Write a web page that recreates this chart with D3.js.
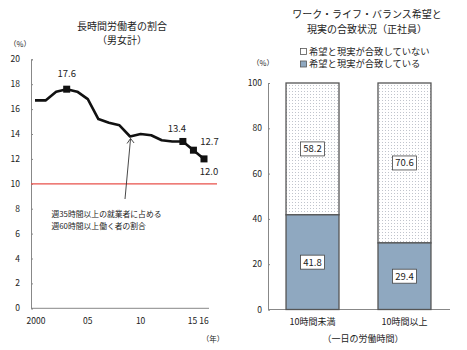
<!DOCTYPE html>
<html><head><meta charset="utf-8">
<script src="https://cdn.jsdelivr.net/npm/d3@7"></script>
<style>
body{margin:0;background:#fff;}
text{font-family:"Noto Sans CJK JP","Noto Sans",sans-serif;fill:#222;}
</style></head>
<body>
<svg id="c" width="467" height="350"></svg>
<script>
// ---- Data: left chart ----
const years = [2000,2001,2002,2003,2004,2005,2006,2007,2008,2009,2010,2011,2012,2013,2014,2015,2016];
const ratio = [16.7,16.7,17.4,17.6,17.4,16.8,15.2,14.9,14.7,13.8,14.0,13.9,13.5,13.4,13.4,12.7,12.0];
const markedYears = [2003,2014,2015,2016];
const xTickYears = [2000,2005,2010,2015,2016];
const xTickLabels = ["2000","05","10","15","16"];
const yTicksLeft = [0,2,4,6,8,10,12,14,16,18,20];
const refLine = 10;

// ---- Data: right chart ----
const categories = ["10時間未満","10時間以上"];
const matched = [41.8,29.4];
const notMatched = [58.2,70.6];
const yTicksRight = [0,20,40,60,80,100];
const legendLabels = ["希望と現実が合致していない","希望と現実が合致している"];

const svg = d3.select("#c");
const defs = svg.append("defs");
const pat = defs.append("pattern").attr("id","dots").attr("patternUnits","userSpaceOnUse")
  .attr("width",3).attr("height",3);
pat.append("rect").attr("width",3).attr("height",3).attr("fill","#fff");
pat.append("rect").attr("x",1).attr("y",1).attr("width",1).attr("height",1).attr("fill","#c0c4cc");

// ================= LEFT =================
const xL = d3.scaleLinear().domain([2000,2016]).range([35,204]);
const yL = d3.scaleLinear().domain([0,20]).range([308.3,59.3]);

const gL = svg.append("g");
gL.append("text").attr("x",122).attr("y",29.5).attr("text-anchor","middle")
  .attr("font-size",10).text("長時間労働者の割合");
gL.append("text").attr("x",122).attr("y",43.5).attr("text-anchor","middle")
  .attr("font-size",10).text("（男女計）");
gL.append("text").attr("x",20).attr("y",47).attr("text-anchor","middle")
  .attr("font-size",7.5).text("（%）");

// y axis
const axL = gL.append("g").attr("transform","translate(31,0)")
  .call(d3.axisRight(yL).tickValues(yTicksLeft).tickSize(2).tickFormat(""));
axL.select(".domain").attr("stroke","#888");
axL.selectAll(".tick line").attr("stroke","#888");
gL.selectAll(".ylab").data(yTicksLeft).join("text").attr("class","ylab")
  .attr("x",20).attr("y",d=>yL(d)+3).attr("text-anchor","end").attr("font-size",8.5).text(d=>d);

// x axis baseline
gL.append("line").attr("x1",31).attr("x2",209).attr("y1",yL(0)).attr("y2",yL(0)).attr("stroke","#888");
gL.selectAll(".xlab").data(xTickYears).join("text").attr("class","xlab")
  .attr("x",(d,i)=>xL(d)+(i===0?1:(d===2015?-1:0)))
  .attr("y",324).attr("text-anchor","middle").attr("font-size",8.5)
  .text((d,i)=>xTickLabels[i]);
gL.append("text").attr("x",213).attr("y",342).attr("text-anchor","middle").attr("font-size",7.5).text("（年）");

// red reference line
gL.append("line").attr("x1",31).attr("x2",217).attr("y1",yL(refLine)).attr("y2",yL(refLine))
  .attr("stroke","#e8504a").attr("stroke-width",1.3);

// data line
const line = d3.line().x((d,i)=>xL(years[i])).y(d=>yL(d));
gL.append("path").datum(ratio).attr("d",line).attr("fill","none").attr("stroke","#111").attr("stroke-width",2.6)
  .attr("stroke-linejoin","round");
gL.selectAll(".mk").data(markedYears).join("rect").attr("class","mk")
  .attr("x",d=>xL(d)-3.5).attr("y",d=>yL(ratio[years.indexOf(d)])-3.5)
  .attr("width",7).attr("height",7).attr("fill","#111");

// value labels
const lblPos = {2003:[0,-16],2014:[-6,-13],2015:[16,-8.5],2016:[5,12.5]};
gL.selectAll(".vl").data(markedYears).join("text").attr("class","vl")
  .attr("x",d=>xL(d)+lblPos[d][0]).attr("y",d=>yL(ratio[years.indexOf(d)])+lblPos[d][1]+3.5)
  .attr("text-anchor","middle").attr("font-size",9.5).text(d=>ratio[years.indexOf(d)].toFixed(1));

// annotation arrow
const tipX = xL(2009)+0.5, tipY = yL(ratio[9])+2;
gL.append("line").attr("x1",125).attr("y1",199).attr("x2",tipX).attr("y2",tipY).attr("stroke","#333").attr("stroke-width",0.9);
gL.append("path").attr("d",`M${tipX-3.5},${tipY+5} L${tipX},${tipY} L${tipX+3.5},${tipY+4.5}`)
  .attr("fill","none").attr("stroke","#333").attr("stroke-width",0.9);
gL.append("text").attr("x",51.5).attr("y",217).attr("font-size",7.8).text("週35時間以上の就業者に占める");
gL.append("text").attr("x",51.5).attr("y",228.5).attr("font-size",7.8).text("週60時間以上働く者の割合");

// ================= RIGHT =================
const xR = d3.scaleBand().domain(categories).range([268,449]).paddingInner(0.424).paddingOuter(0.196);
const yR = d3.scaleLinear().domain([0,100]).range([309.5,83]);

const gR = svg.append("g");
gR.append("text").attr("x",367).attr("y",18).attr("text-anchor","middle").attr("font-size",10).text("ワーク・ライフ・バランス希望と");
gR.append("text").attr("x",367).attr("y",32.5).attr("text-anchor","middle").attr("font-size",10).text("現実の合致状況（正社員）");
gR.append("text").attr("x",263).attr("y",66).attr("text-anchor","middle").attr("font-size",7.5).text("（%）");

// legend
legendLabels.forEach((t,i)=>{
  const ly = 51.5 + i*12.5;
  gR.append("rect").attr("x",300.5).attr("y",ly-3).attr("width",6).attr("height",6)
    .attr("fill",i===0?"#fff":"#8fa8c0").attr("stroke","#555").attr("stroke-width",0.8);
  gR.append("text").attr("x",309).attr("y",ly+3.3).attr("font-size",9.3).text(t);
});

const axR = gR.append("g").attr("transform","translate(268,0)")
  .call(d3.axisRight(yR).tickValues(yTicksRight).tickSize(2).tickFormat(""));
axR.select(".domain").attr("stroke","#888");
axR.selectAll(".tick line").attr("stroke","#888");
gR.selectAll(".ylab").data(yTicksRight).join("text").attr("class","ylab")
  .attr("x",262).attr("y",d=>yR(d)+3).attr("text-anchor","end").attr("font-size",8.5).text(d=>d);
gR.append("line").attr("x1",268).attr("x2",450).attr("y1",yR(0)).attr("y2",yR(0)).attr("stroke","#888");

const bw = xR.bandwidth();
categories.forEach((c,i)=>{
  const x = xR(c);
  gR.append("rect").attr("x",x).attr("y",yR(matched[i]+notMatched[i])).attr("width",bw)
    .attr("height",yR(matched[i])-yR(matched[i]+notMatched[i])).attr("fill","url(#dots)")
    .attr("stroke","#555").attr("stroke-width",1.3);
  gR.append("rect").attr("x",x).attr("y",yR(matched[i])).attr("width",bw)
    .attr("height",yR(0)-yR(matched[i])).attr("fill","#8fa8c0")
    .attr("stroke","#555").attr("stroke-width",1.3);
  const labs = [[matched[i], (yR(0)+yR(matched[i]))/2],[notMatched[i], (yR(matched[i])+yR(100))/2]];
  labs.forEach(([v,cy])=>{
    gR.append("rect").attr("x",x+bw/2-12).attr("y",cy-7).attr("width",24).attr("height",14)
      .attr("fill","#fff").attr("stroke","#444").attr("stroke-width",0.8);
    gR.append("text").attr("x",x+bw/2).attr("y",cy+3.5).attr("text-anchor","middle").attr("font-size",9.5).text(v.toFixed(1));
  });
  gR.append("text").attr("x",x+bw/2).attr("y",325).attr("text-anchor","middle").attr("font-size",9).text(c);
});
gR.append("text").attr("x",363).attr("y",342).attr("text-anchor","middle").attr("font-size",9).text("（一日の労働時間）");
</script>
</body></html>
